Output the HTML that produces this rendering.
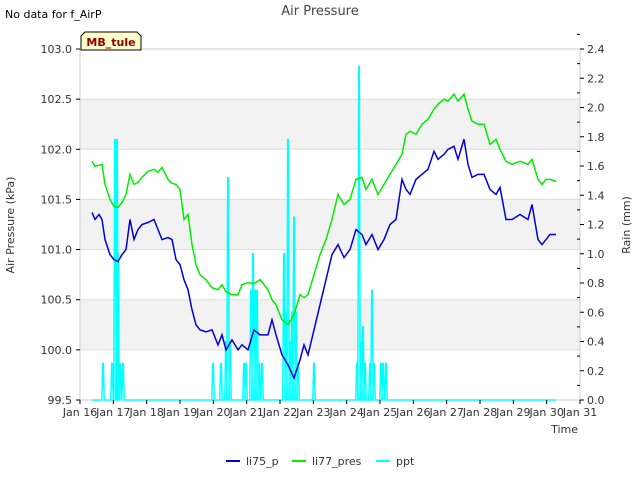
<!DOCTYPE html>
<html><head><meta charset="utf-8"><style>
body{margin:0;background:#fff;font-family:"Liberation Sans","DejaVu Sans",sans-serif}
svg text{font-family:"DejaVu Sans","Liberation Sans",sans-serif}
</style></head><body>
<svg id="c" width="640" height="480" xmlns="http://www.w3.org/2000/svg">
<rect x="0" y="0" width="640" height="480" fill="#fff"/>
<text x="5" y="18" font-size="11" fill="#000">No data for f_AirP</text>
<text x="320" y="15" font-size="13" fill="#444" text-anchor="middle">Air Pressure</text>
<g id="bands"></g><g id="grid"></g>
<rect x="80" y="49" width="500" height="351" fill="none" stroke="#ccc"/>
<g id="series"></g><g id="axes"></g>
<g><path d="M81 50 L81 36 L85 32 L137 32 L141 36 L141 50 Z" fill="#ffffcc" stroke="#000"/>
<text x="111" y="46" font-size="11" font-weight="bold" fill="#8b0000" text-anchor="middle">MB_tule</text></g>
<text x="14" y="225" font-size="11" fill="#333" text-anchor="middle" transform="rotate(-90 14 225)">Air Pressure (kPa)</text>
<text x="630" y="225" font-size="11" fill="#333" text-anchor="middle" transform="rotate(-90 630 225)">Rain (mm)</text>
<text x="578" y="433" font-size="11" fill="#333" text-anchor="end">Time</text>
<g>
<g><line x1="226" y1="461" x2="240" y2="461" stroke="#0000dd" stroke-width="2"/><text x="246" y="465" font-size="11" fill="#333">li75_p</text></g>
<g><line x1="292" y1="461" x2="306" y2="461" stroke="#00ee00" stroke-width="2"/><text x="312" y="465" font-size="11" fill="#333">li77_pres</text></g>
<g><line x1="376" y1="461" x2="390" y2="461" stroke="#00ffff" stroke-width="2"/><text x="396" y="465" font-size="11" fill="#333">ppt</text></g>
</g>
</svg>
<script>
const times=[16.36,16.45,16.57,16.66,16.75,16.9,17.02,17.14,17.26,17.38,17.5,17.62,17.74,17.86,18.04,18.22,18.34,18.46,18.64,18.76,18.88,19.0,19.12,19.24,19.36,19.48,19.6,19.78,19.96,20.14,20.26,20.38,20.56,20.74,20.86,21.04,21.22,21.4,21.64,21.76,21.88,22.06,22.24,22.42,22.6,22.72,22.84,23.02,23.2,23.38,23.56,23.74,23.92,24.1,24.28,24.46,24.58,24.76,24.94,25.12,25.3,25.48,25.66,25.78,25.9,26.08,26.26,26.44,26.62,26.74,26.92,27.04,27.22,27.34,27.52,27.64,27.76,27.94,28.12,28.3,28.48,28.6,28.78,28.96,29.2,29.44,29.56,29.74,29.86,29.98,30.1,30.28];
const li75=[101.37,101.3,101.35,101.3,101.1,100.95,100.9,100.88,100.95,101.0,101.3,101.1,101.2,101.25,101.27,101.3,101.2,101.1,101.12,101.1,100.9,100.85,100.7,100.6,100.4,100.25,100.2,100.18,100.2,100.05,100.15,100.0,100.1,100.0,100.05,100.0,100.2,100.15,100.15,100.3,100.15,99.95,99.85,99.72,99.9,100.05,99.95,100.2,100.45,100.7,100.95,101.05,100.92,101.0,101.2,101.15,101.05,101.15,101.0,101.1,101.25,101.3,101.7,101.6,101.55,101.7,101.75,101.8,101.98,101.9,101.95,102.0,102.03,101.9,102.1,101.85,101.72,101.75,101.75,101.6,101.55,101.62,101.3,101.3,101.35,101.3,101.45,101.1,101.05,101.1,101.15,101.15];
const li77=[101.88,101.83,101.84,101.85,101.65,101.5,101.43,101.42,101.47,101.55,101.75,101.65,101.67,101.72,101.78,101.8,101.77,101.82,101.7,101.66,101.65,101.6,101.3,101.35,101.05,100.85,100.75,100.7,100.62,100.6,100.65,100.58,100.55,100.55,100.65,100.67,100.66,100.7,100.6,100.5,100.45,100.3,100.25,100.35,100.55,100.52,100.55,100.75,100.95,101.1,101.3,101.55,101.45,101.5,101.7,101.72,101.6,101.7,101.55,101.65,101.75,101.85,101.95,102.15,102.18,102.15,102.25,102.3,102.4,102.45,102.5,102.48,102.55,102.48,102.55,102.4,102.28,102.25,102.25,102.05,102.1,102.0,101.88,101.85,101.88,101.85,101.9,101.7,101.65,101.7,101.7,101.68];
const pptTimes=[16.69,16.96,17.05,17.11,17.14,17.2,17.29,19.99,20.23,20.38,20.44,20.5,20.92,20.98,21.13,21.19,21.25,21.31,21.37,21.46,22.12,22.18,22.24,22.3,22.36,22.42,22.48,22.54,23.02,24.31,24.37,24.43,24.49,24.55,24.7,24.76,24.82,25.03,25.09,25.18];
const pptVals=[0.25,0.25,1.78,1.78,1.0,0.25,0.25,0.25,0.25,0.4,1.52,0.4,0.25,0.25,0.75,1.0,0.75,0.75,0.25,0.25,1.0,0.6,1.78,0.4,0.6,1.25,0.6,0.25,0.25,0.25,2.28,0.4,0.5,0.25,0.25,0.75,0.25,0.25,0.25,0.25];
const yTicks=[99.5,100.0,100.5,101.0,101.5,102.0,102.5,103.0];
const y2Ticks=[0,0.2,0.4,0.6,0.8,1.0,1.2,1.4,1.6,1.8,2.0,2.2,2.4];
const xTicks=[16,17,18,19,20,21,22,23,24,25,26,27,28,29,30,31];
const NS='http://www.w3.org/2000/svg';
const X=d=>80+(d-16)*500/15, Y=v=>400-(v-99.5)*351/3.5, Y2=v=>400-v*351/2.4;
function mk(t,a,p){const e=document.createElementNS(NS,t);for(const k in a)e.setAttribute(k,a[k]);p.appendChild(e);return e;}
const bands=document.getElementById('bands'),grid=document.getElementById('grid'),ser=document.getElementById('series'),ax=document.getElementById('axes');
for(let i=0;i<yTicks.length-1;i++){if(i%2===1){const r=mk('rect',{x:80,y:Y(yTicks[i+1]),width:500,height:Y(yTicks[i])-Y(yTicks[i+1]),fill:'#f2f2f2'},bands);

}}
yTicks.forEach(v=>{const l=mk('line',{x1:80,x2:580,y1:Y(v),y2:Y(v),stroke:'#ddd'},grid);


mk('line',{x1:76,x2:80,y1:Y(v),y2:Y(v),stroke:'#000'},ax);
const t=mk('text',{x:72,y:Y(v)+4,'font-size':11,fill:'#333','text-anchor':'end'},ax);t.textContent=v.toFixed(1);

});
y2Ticks.forEach(v=>{mk('line',{x1:580,x2:584,y1:Y2(v),y2:Y2(v),stroke:'#000'},ax);
mk('line',{x1:577,x2:580,y1:Y2(v+0.1),y2:Y2(v+0.1),stroke:'#000'},ax);
const t=mk('text',{x:587,y:Y2(v)+4,'font-size':11,fill:'#333'},ax);t.textContent=v.toFixed(1);

});
xTicks.forEach(d=>{mk('line',{x1:X(d),x2:X(d),y1:400,y2:404,stroke:'#000'},ax);
const t=mk('text',{x:X(d),y:416,'font-size':11,fill:'#333','text-anchor':'middle'},ax);t.textContent='Jan '+d;

});
// ppt
let d='M'+X(16.36)+' '+Y2(0);
pptTimes.forEach((t,i)=>{const x=X(t);d+=` L${x-1.2} ${Y2(0)} L${x-0.3} ${Y2(pptVals[i])} L${x+0.3} ${Y2(pptVals[i])} L${x+1.2} ${Y2(0)}`;});
d+=' L'+X(30.28)+' '+Y2(0);
const pp=mk('path',{d:d,fill:'none',stroke:'#00ffff','stroke-width':1.5},ser);


function line(vals,col,name){const p=mk('polyline',{points:vals.map((v,i)=>X(times[i])+','+Y(v)).join(' '),fill:'none',stroke:col,'stroke-width':1.5},ser);

}
line(li77,'#00ee00','li77-pres-line');
line(li75,'#0000dd','li75-p-line');
</script>
</body></html>
